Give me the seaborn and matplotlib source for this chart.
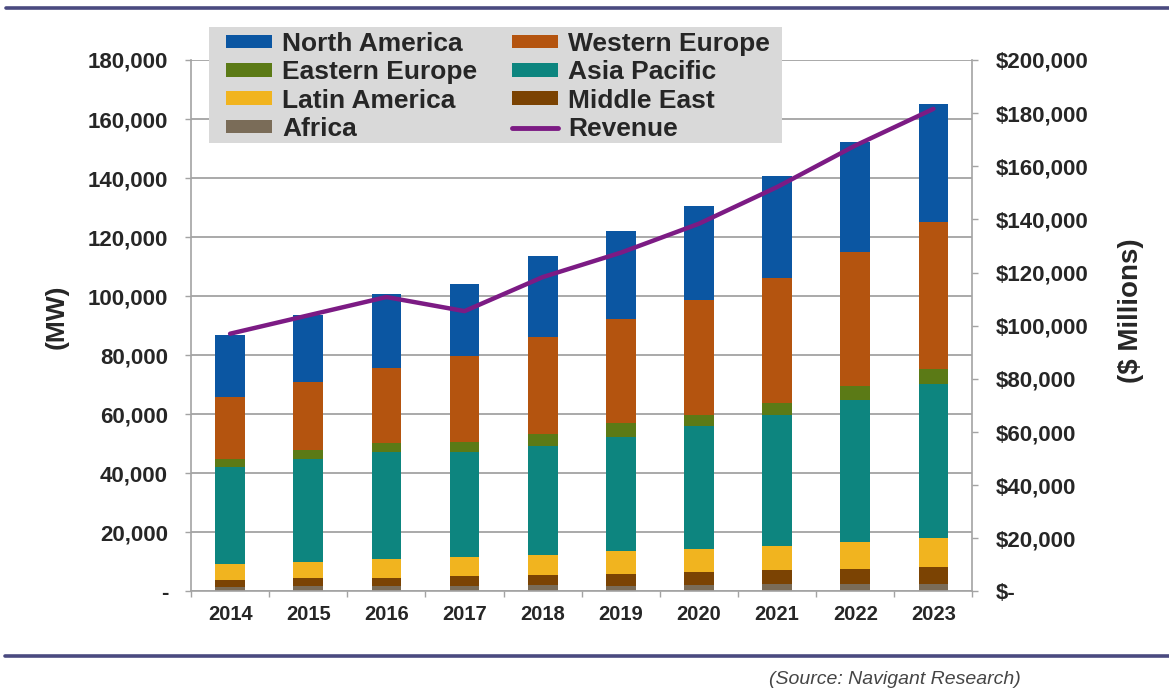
import numpy as np
import pandas as pd
import matplotlib
matplotlib.use("Agg")
import matplotlib.pyplot as plt
from matplotlib.patches import Patch, Rectangle
from matplotlib.lines import Line2D
from matplotlib.ticker import FuncFormatter, MultipleLocator, FixedLocator
import seaborn as sns

# Installed capacity by region (MW) and total revenue ($ millions)
years = ["2014", "2015", "2016", "2017", "2018", "2019", "2020", "2021", "2022", "2023"]
africa = [1500, 1700, 1900, 2000, 2100, 2000, 2100, 2400, 2600, 2600]
middle_east = [2400, 2800, 2800, 3100, 3500, 4000, 4500, 4800, 5000, 5700]
latin_america = [5400, 5400, 6200, 6500, 6800, 7600, 7800, 8300, 9000, 9700]
asia_pacific = [32800, 35000, 36300, 35600, 37000, 38800, 41600, 44200, 48100, 52200]
eastern_europe = [2800, 2900, 3000, 3400, 4000, 4500, 3900, 4100, 4900, 5100]
western_europe = [21000, 23200, 25600, 29100, 32800, 35500, 38700, 42500, 45400, 49800]
north_america = [20900, 22500, 25100, 24600, 27300, 29700, 31900, 34300, 37200, 40100]
revenue = [97000, 103900, 110800, 105500, 118300, 127500, 138400, 152200, 167800, 181600]

# stacking order, bottom to top
regions = {
    "Africa": africa,
    "Middle East": middle_east,
    "Latin America": latin_america,
    "Asia Pacific": asia_pacific,
    "Eastern Europe": eastern_europe,
    "Western Europe": western_europe,
    "North America": north_america,
}
colors = {
    "North America": "#0b56a2",
    "Western Europe": "#b4540f",
    "Eastern Europe": "#5b7a16",
    "Asia Pacific": "#0d857f",
    "Latin America": "#f1b41f",
    "Middle East": "#7b4303",
    "Africa": "#7a6c58",
}
revenue_color = "#7c1b84"
grid_gray = "#a3a3a3"

sns.set_theme(style="white")
plt.rcParams["font.family"] = ["Liberation Sans", "DejaVu Sans"]

fig = plt.figure(figsize=(11.69, 6.91), dpi=100)
ax = fig.add_axes([0.1634, 0.1440, 0.6685, 0.7692])

df = pd.DataFrame(regions, index=years)
cum = df.cumsum(axis=1)

# draw the stacks as overlaid cumulative bars, tallest first
for name in reversed(list(regions.keys())):
    sns.barplot(x=years, y=cum[name].values, color=colors[name], width=0.38,
                saturation=1, edgecolor="none", linewidth=0, ax=ax, zorder=2)

ax.set_axisbelow(True)
ax.set_xlim(-0.5, len(years) - 0.5)
ax.set_ylim(0, 180000)
ax.yaxis.set_major_locator(MultipleLocator(20000))
ax.yaxis.set_major_formatter(FuncFormatter(lambda v, p: "-" if v == 0 else f"{v:,.0f}"))
ax.yaxis.grid(True, color=grid_gray, lw=1.3)
ax.xaxis.grid(False)
ax.set_xticks(range(len(years)))
ax.set_xticklabels(years)
ax.xaxis.set_minor_locator(FixedLocator(np.arange(-0.5, len(years), 1.0)))
ax.tick_params(axis="x", which="major", length=0, pad=10, labelsize=14.5)
ax.tick_params(axis="x", which="minor", length=4.5, width=1, color=grid_gray, direction="out", bottom=True)
ax.tick_params(axis="y", length=4.5, width=1, color=grid_gray, direction="out", pad=12, labelsize=16, left=True)
for lab in ax.get_xticklabels() + ax.get_yticklabels():
    lab.set_fontweight("bold")
ax.set_xlabel("")
ax.set_ylabel("(MW)", fontsize=19, fontweight="bold")
ax.yaxis.set_label_coords(-0.156, 0.517)
for side in ["top", "right"]:
    ax.spines[side].set_visible(False)
for side in ["left", "bottom"]:
    ax.spines[side].set_color(grid_gray)
    ax.spines[side].set_linewidth(1.2)

# revenue on the secondary axis
ax2 = ax.twinx()
sns.lineplot(x=np.arange(len(years)), y=revenue, color=revenue_color, lw=3.2, ax=ax2, zorder=3)
ax2.set_xlim(-0.5, len(years) - 0.5)
ax2.set_ylim(0, 200000)
ax2.yaxis.set_major_locator(MultipleLocator(20000))
ax2.yaxis.set_major_formatter(FuncFormatter(lambda v, p: "$-" if v == 0 else f"${v:,.0f}"))
ax2.grid(False)
ax2.tick_params(axis="y", length=4.5, width=1, color=grid_gray, direction="out", pad=12, labelsize=16, right=True)
for lab in ax2.get_yticklabels():
    lab.set_fontweight("bold")
ax2.set_ylabel("($ Millions)", fontsize=20, fontweight="bold", rotation=90)
ax2.yaxis.set_label_coords(1.186, 0.528)
for side in ["top", "left", "bottom"]:
    ax2.spines[side].set_visible(False)
ax2.spines["right"].set_color(grid_gray)
ax2.spines["right"].set_linewidth(1.2)

# grey legend panel
panel = Rectangle((209 / 1169, 1 - 143 / 691), (782 - 209) / 1169, (143 - 27) / 691,
                  transform=fig.transFigure, facecolor="#d9d9d9", edgecolor="none",
                  clip_on=False, zorder=9)
ax2.add_patch(panel)

# legend filled column by column
order = ["North America", "Eastern Europe", "Latin America", "Africa",
         "Western Europe", "Asia Pacific", "Middle East"]
handles = [Patch(facecolor=colors[n], edgecolor="none") for n in order]
labels = list(order)
handles.append(Line2D([0], [0], color=revenue_color, lw=3.5))
labels.append("Revenue")
leg = ax2.legend(handles, labels, ncol=2, loc="upper left",
                 bbox_to_anchor=(226 / 1169, 1 - 32 / 691), bbox_transform=fig.transFigure,
                 frameon=False, prop={"weight": "bold", "size": 19},
                 handlelength=1.74, handleheight=0.42, handletextpad=0.4,
                 columnspacing=1.3, labelspacing=0.165, borderpad=0, borderaxespad=0)
leg.set_zorder(10)

# horizontal rules and source note
fig.add_artist(Line2D([6 / 1169, 1], [1 - 8 / 691] * 2, transform=fig.transFigure,
                      color="#4a4a80", lw=2.6))
fig.add_artist(Line2D([5 / 1169, 1], [1 - 656 / 691] * 2, transform=fig.transFigure,
                      color="#4a4a80", lw=2.6))
fig.text(895 / 1169, 1 - 679 / 691, "(Source: Navigant Research)", ha="center", va="center",
         fontsize=14, style="italic", color="#454545")

fig.savefig("out.png", dpi=100)
